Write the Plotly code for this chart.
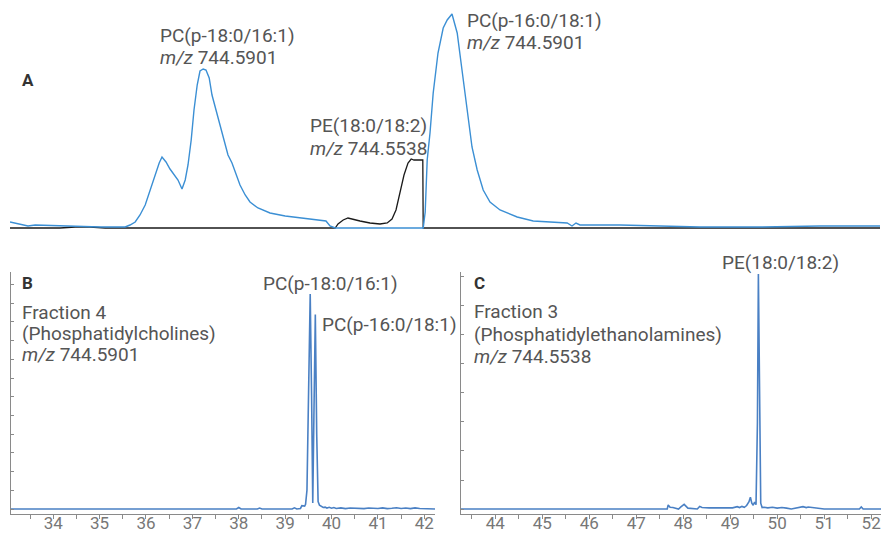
import plotly.graph_objects as go

W, H = 881, 535

# ---- Panel A: overlaid extracted ion chromatograms (unfractionated) ----
a_pc_time = [30.0, 30.25, 30.45, 30.63, 31.25, 32.25, 32.88, 33.0, 33.13, 33.25, 33.38, 33.5,
             33.63, 33.73, 33.8, 33.9, 34.0, 34.1, 34.2, 34.3, 34.38, 34.45, 34.53, 34.6,
             34.68, 34.75, 34.83, 34.9, 34.98, 35.05, 35.15, 35.25, 35.35, 35.45, 35.55,
             35.65, 35.75, 35.88, 36.0, 36.2, 36.5, 36.88, 37.25, 37.63, 37.9, 38.0, 38.13,
             40.33, 40.38, 40.43, 40.5, 40.58, 40.7, 40.83, 40.93, 41.05, 41.18, 41.3, 41.43,
             41.55, 41.68, 41.83, 42.0, 42.25, 42.68, 43.08, 43.93, 44.05, 44.15, 44.25,
             45.25, 46.25, 47.25, 48.75, 50.25, 51.75]
a_pc_int = [6, 4, 2, 3, 2, 1, 1, 3, 6, 13, 23, 38,
            53, 65, 71, 66, 59, 53, 48, 39, 48, 63, 88, 118,
            143, 157, 159, 158, 150, 133, 118, 103, 88, 73, 65,
            53, 43, 33, 26, 20, 15, 12, 10, 8, 7, 2, 0,
            0, 16, 68, 95, 135, 175, 200, 208, 214, 195, 158, 118,
            81, 58, 38, 26, 18, 11, 7, 5, 2, 5, 3,
            3, 2, 1, 1, 2, 2]

a_pe_time = [30.0, 31.25, 31.63, 32.0, 32.38, 38.13, 38.2, 38.33, 38.45, 38.58, 38.75, 39.0,
             39.25, 39.43, 39.55, 39.65, 39.75, 39.85, 39.95, 40.03, 40.1, 40.2, 40.28,
             40.32, 40.33, 51.75]
a_pe_int = [0, 0, 1, 1, 0, 0, 4, 8, 10, 9, 7, 5,
            4, 5, 9, 18, 35, 53, 65, 69, 68, 68, 68,
            68, 0, 0]

# ---- Panel B: fraction 4 (phosphatidylcholines), m/z 744.5901 ----
b_time = [33.09, 35.0, 37.0, 37.95, 38.0, 38.05, 38.4, 38.45, 38.5, 39.0, 39.15, 39.2, 39.25,
          39.33, 39.36, 39.42, 39.44, 39.47, 39.51, 39.54, 39.57, 39.595, 39.62, 39.65,
          39.68, 39.71, 39.74, 39.78, 39.82, 39.86, 39.9, 39.95, 40.0, 40.05, 40.1, 40.2,
          40.3, 40.4, 40.5, 40.6, 40.7, 40.8, 40.9, 41.0, 41.1, 41.2, 41.3, 41.4, 41.5,
          41.6, 41.7, 41.8, 41.9, 42.0, 42.1, 42.23]
b_int = [0, 0, 0, 0, 0.8, 0, 0, 0.5, 0, 0, 0, 0.6, 0,
         0.3, 1.8, 1.6, 2.5, 10, 60, 115, 60, 3.2, 50, 104,
         40, 4, 2, 1.2, 0.8, 1.0, 0.5, 0.9, 0.4, 0.8, 0.3, 0.6,
         0.2, 0.5, 0.3, 0.4, 0.2, 0.5, 0.2, 0.3, 0.6, 0.2, 0.4, 0.7, 0.3,
         0.5, 0.2, 0.6, 0.3, 0.2, 0.1, 0]

# ---- Panel C: fraction 3 (phosphatidylethanolamines), m/z 744.5538 ----
c_time = [43.27, 45.0, 47.0, 47.66, 47.68, 47.72, 47.78, 47.9, 47.95, 48.02, 48.1, 48.3,
          48.35, 48.4, 48.55, 48.8, 49.05, 49.15, 49.2, 49.25, 49.3, 49.35, 49.4, 49.43,
          49.46, 49.49, 49.52, 49.55, 49.58, 49.6, 49.62, 49.65, 49.68, 49.72, 49.8, 49.9,
          50.0, 50.1, 50.2, 50.3, 50.55, 50.62, 50.66, 50.77, 51.0, 51.75, 51.79, 51.83,
          52.21]
c_int = [0, 0, 0, 0, 1.4, 0.6, 0.5, 0, 0.7, 1.6, 0.3, 0,
         0.9, 0.5, 0.4, 0.5, 0.4, 0.8, 0.5, 0.9, 0.6, 1.2, 2.5, 4.1,
         2.0, 1.3, 2.4, 1.5, 30, 81, 40, 2, 0.5, 0.6, 0.4, 0.6,
         0.3, 0.5, 0.3, 0, 0.8, 0.5, 0.7, 0.5, 0, 0, 0.7, 0,
         0]

BLUE_A = "#3b8fd4"
BLUE_BC = "#4a80c4"
TEXT = "#555555"
AXIS = "#8a8a8a"
FONT = "Roboto"

fig = go.Figure()
fig.add_trace(go.Scatter(x=a_pe_time, y=a_pe_int, mode="lines",
                         line=dict(color="#1a1a1a", width=1.3), xaxis="x", yaxis="y"))
fig.add_trace(go.Scatter(x=a_pc_time, y=a_pc_int, mode="lines",
                         line=dict(color=BLUE_A, width=1.4), xaxis="x", yaxis="y"))
fig.add_trace(go.Scatter(x=b_time, y=b_int, mode="lines",
                         line=dict(color=BLUE_BC, width=1.6), xaxis="x2", yaxis="y2"))
fig.add_trace(go.Scatter(x=c_time, y=c_int, mode="lines",
                         line=dict(color=BLUE_BC, width=1.6), xaxis="x3", yaxis="y3"))


def px_x(p):
    return p / W


def px_y(p):
    return 1 - p / H


time_axis = dict(
    showline=True, linecolor=AXIS, linewidth=1, ticks="outside", ticklen=4,
    tickcolor=AXIS, dtick=1, tick0=0, showgrid=False, zeroline=False,
    automargin=False, ticklabeloverflow="allow", ticklabelstandoff=-10,
    tickfont=dict(family=FONT, size=17, color="#777777"),
    minor=dict(dtick=0.5, ticks="outside", ticklen=4, tickcolor=AXIS),
)
int_axis = dict(
    showline=True, linecolor=AXIS, linewidth=1, ticks="inside", ticklen=3,
    tickcolor=AXIS, tick0=0, dtick=10, showticklabels=False, showgrid=False,
    zeroline=False, automargin=False,
)

fig.update_layout(
    width=W, height=H,
    margin=dict(l=0, r=0, t=0, b=0, autoexpand=False),
    paper_bgcolor="white", plot_bgcolor="white", showlegend=False,
    xaxis=dict(domain=[px_x(10), px_x(880)], range=[30, 51.75], visible=False,
               automargin=False),
    yaxis=dict(domain=[px_y(232), px_y(8)], range=[-4, 220], visible=False,
               automargin=False),
    xaxis2=dict(domain=[px_x(11), px_x(435)], range=[33.09, 42.23], anchor="y2", **time_axis),
    yaxis2=dict(domain=[px_y(514), px_y(272)], range=[-2.67, 126.7], anchor="x2", **int_axis),
    xaxis3=dict(domain=[px_x(461), px_x(881)], range=[43.27, 52.21], anchor="y3", **time_axis),
    yaxis3=dict(domain=[px_y(514), px_y(272)], range=[-1.72, 81.7], anchor="x3", **int_axis),
)


def label(text, x, y, size=19, color=TEXT, bold=False):
    if bold:
        text = "<b>" + text + "</b>"
    fig.add_annotation(text=text, x=px_x(x - 2), y=px_y(y), xref="paper", yref="paper",
                       xanchor="left", yanchor="middle", showarrow=False,
                       font=dict(family=FONT, size=size, color=color))


# Panel letters
label("A", 22, 80, size=17, color="#333333", bold=True)
label("B", 22, 283, size=17, color="#333333", bold=True)
label("C", 474, 283, size=17, color="#333333", bold=True)

# Panel A peak labels
label("PC(p-18:0/16:1)", 160, 35)
label("<i>m/z</i> 744.5901", 160, 58)
label("PE(18:0/18:2)", 310, 125)
label("<i>m/z</i> 744.5538", 310, 148)
label("PC(p-16:0/18:1)", 467, 20)
label("<i>m/z</i> 744.5901", 467, 43)

# Panel B
label("Fraction 4", 22, 312)
label("(Phosphatidylcholines)", 22, 333)
label("<i>m/z</i> 744.5901", 22, 354)
label("PC(p-18:0/16:1)", 263, 283)
label("PC(p-16:0/18:1)", 322, 324)

# Panel C
label("Fraction 3", 474, 311)
label("(Phosphatidylethanolamines)", 474, 334)
label("<i>m/z</i> 744.5538", 474, 356)
label("PE(18:0/18:2)", 722, 262)

fig.write_html("out.html")
